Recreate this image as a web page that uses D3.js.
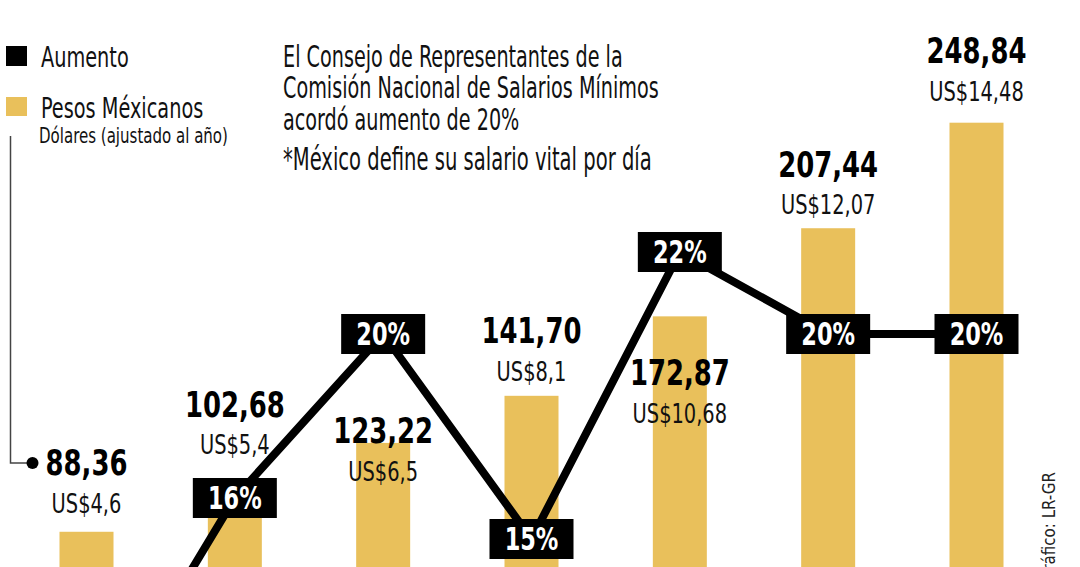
<!DOCTYPE html>
<html><head><meta charset="utf-8">
<script src="https://cdn.jsdelivr.net/npm/d3@7"></script>
<style>html,body{margin:0;padding:0;background:#fff;overflow:hidden}</style>
</head><body><svg id="c" width="1080" height="567"></svg>
<script>
// ---- data ----
const years = ["2018","2019","2020","2021","2022","2023","2024"];
const pesos = [88.36, 102.68, 123.22, 141.70, 172.87, 207.44, 248.84];
const dolares = [4.6, 5.4, 6.5, 8.1, 10.68, 12.07, 14.48];
const aumento = [10, 16, 20, 15, 22, 20, 20];
const titleLines = ["El Consejo de Representantes de la", "Comisión Nacional de Salarios Mínimos", "acordó aumento de 20%"];
const note = "*México define su salario vital por día";
const legendLabels = ["Aumento", "Pesos Méxicanos"];
const legendSub = "Dólares (ajustado al año)";
const source = "Gráfico: LR-GR";

// ---- layout / style ----
const FONT = "'DejaVu Sans Condensed','Liberation Sans Narrow','Arial Narrow',sans-serif";
const GOLD = "#E9C05B";
const labelDy = [-56.7, -78.5, 0.4, -52.8, 68.7, -51.5, -59.4]; // baseline of value label relative to bar top
const usdGap = 37.5;

const svg = d3.select("#c");
const x = d3.scalePoint().domain(years).range([86.5, 976.5]);
const yBar = d3.scaleLinear().domain([0, 248.84]).range([757, 122.7]);
const yPct = d3.scaleLinear().domain([15, 22]).range([539, 252]);
const barW = 54;

const fmt2 = d3.format(".2f");
const comma = s => s.replace(".", ",");
const place = (px, py, sx) => `translate(${px},${py}) scale(${sx},1)`;

// bars
svg.append("g").selectAll("rect").data(years).join("rect")
  .attr("x", d => x(d) - barW / 2)
  .attr("width", barW)
  .attr("y", (d, i) => yBar(pesos[i]))
  .attr("height", (d, i) => yBar(0) - yBar(pesos[i]))
  .attr("fill", GOLD);

// value labels
const lab = svg.append("g").attr("font-family", FONT).attr("text-anchor", "middle");
lab.selectAll("text.v").data(years).join("text").attr("class", "v")
  .attr("transform", (d, i) => place(x(d), yBar(pesos[i]) + labelDy[i], 0.8))
  .attr("font-size", 36).attr("font-weight", "bold").attr("fill", "#000")
  .text((d, i) => comma(fmt2(pesos[i])));
lab.selectAll("text.u").data(years).join("text").attr("class", "u")
  .attr("transform", (d, i) => place(x(d), yBar(pesos[i]) + labelDy[i] + usdGap, 0.8))
  .attr("font-size", 27).attr("fill", "#111")
  .text((d, i) => "US$" + comma(String(dolares[i])));

// line
const line = d3.line().x((d, i) => x(years[i])).y(d => yPct(d));
svg.append("path").datum(aumento).attr("d", line)
  .attr("fill", "none").attr("stroke", "#000").attr("stroke-width", 8).attr("stroke-linejoin", "miter");

// percent boxes
const boxes = svg.append("g").selectAll("g").data(aumento).join("g")
  .attr("transform", (d, i) => `translate(${x(years[i])},${yPct(d)})`);
boxes.append("rect").attr("x", -42).attr("y", -20).attr("width", 84).attr("height", 40).attr("fill", "#000");
boxes.append("text").attr("text-anchor", "middle").attr("transform", "translate(0,11) scale(0.78,1)")
  .attr("font-family", FONT).attr("font-weight", "bold").attr("font-size", 32).attr("fill", "#fff")
  .text(d => d + "%");

// title block
const tb = svg.append("g").attr("font-family", FONT).attr("fill", "#111");
tb.selectAll("text").data(titleLines).join("text")
  .attr("transform", (d, i) => place(283, 66.7 + i * 31.7, 0.7)).attr("font-size", 30.5).text(d => d);
tb.append("text").attr("transform", place(283, 170, 0.68)).attr("font-size", 32).text(note);

// legend
const lg = svg.append("g").attr("font-family", FONT).attr("fill", "#111");
lg.append("rect").attr("x", 6).attr("y", 46).attr("width", 21).attr("height", 20).attr("fill", "#000");
lg.append("rect").attr("x", 6).attr("y", 97).attr("width", 21).attr("height", 19).attr("fill", GOLD);
lg.selectAll("text.l").data(legendLabels).join("text").attr("class", "l")
  .attr("transform", (d, i) => place(41, 66.5 + i * 51, 0.74)).attr("font-size", 29).text(d => d);
lg.append("text").attr("transform", place(39, 143, 0.76)).attr("font-size", 22).text(legendSub);
// connector to first value
lg.append("path").attr("d", `M10.5,136V463H${x(years[0]) - 54}`)
  .attr("fill", "none").attr("stroke", "#444").attr("stroke-width", 1.5);
lg.append("circle").attr("cx", x(years[0]) - 54).attr("cy", 463).attr("r", 6).attr("fill", "#000");

// source
svg.append("text").attr("transform", "translate(1055,472) rotate(-90) scale(0.93,1)")
  .attr("text-anchor", "end").attr("font-family", FONT).attr("font-size", 18).attr("fill", "#222")
  .text(source);
</script></body></html>
